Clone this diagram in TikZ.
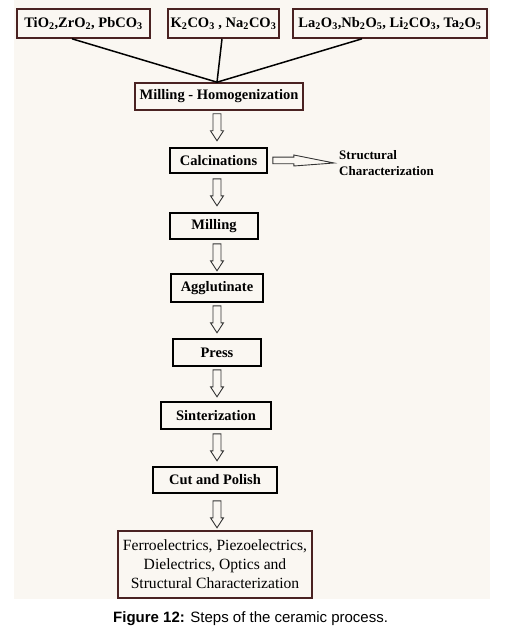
\documentclass[tikz,border=0pt]{standalone}
\usepackage{fontspec}
\setmainfont{Liberation Serif}
\newfontfamily\capfont{Liberation Sans}
\usetikzlibrary{calc}
\definecolor{bgc}{HTML}{FAF7F2}
\definecolor{brownb}{HTML}{4A2222}
\tikzset{
  box/.style={draw=black, line width=1.6pt, fill=bgc, inner sep=0pt, align=center,
    font=\fontsize{14.5}{16}\selectfont\bfseries},
  bbox/.style={box, draw=brownb},
  link/.style={line width=1.5pt, black},
  arrline/.style={draw=black!80, line width=0.9pt, fill=bgc, line join=miter},
  downarr/.pic={\draw[arrline] (-4,0) -- (4,0) -- (4,17) -- (6.5,17) -- (0,27) -- (-6.5,17) -- (-4,17) -- cycle;}
}
\begin{document}
\begin{tikzpicture}[x=1pt,y=-1pt]
\useasboundingbox (0,0) rectangle (507,631);
\fill[white] (0,0) rectangle (507,631);
\fill[bgc] (14,0) rectangle (490,599);
\coordinate (ax) at (217,0);
% top boxes
\node[bbox, minimum width=133, minimum height=29] (b1) at (83.5,23.5) {TiO\textsubscript{2},ZrO\textsubscript{2}, PbCO\textsubscript{3}};
\node[bbox, minimum width=111, minimum height=29] (b2) at (223.5,23.5) {K\textsubscript{2}CO\textsubscript{3} , Na\textsubscript{2}CO\textsubscript{3}};
\node[bbox, minimum width=194, minimum height=29] (b3) at (390,23.5) {La\textsubscript{2}O\textsubscript{3},Nb\textsubscript{2}O\textsubscript{5}, Li\textsubscript{2}CO\textsubscript{3}, Ta\textsubscript{2}O\textsubscript{5}};
\node[bbox, minimum width=168, minimum height=27] (mh) at (219,96.5) {Milling - Homogenization};
\coordinate (j) at ([xshift=-2pt]mh.north);
\draw[link] ([xshift=-11.5pt]b1.south) -- (j);
\draw[link] ([xshift=-1.5pt]b2.south) -- (j);
\draw[link] ([xshift=-28pt]b3.south) -- (j);
% chain
\node[box, minimum width=97, minimum height=25] (calc) at (218.5,160.5) {Calcinations};
\node[box, minimum width=88, minimum height=26] (mill) at (214,226) {Milling};
\node[box, minimum width=92, minimum height=28] (aggl) at (217,288) {Agglutinate};
\node[box, minimum width=88, minimum height=27] (press) at (217,352.5) {Press};
\node[box, minimum width=110, minimum height=27] (sint) at (216,415.5) {Sinterization};
\node[box, minimum width=124, minimum height=26] (cut) at (215,480) {Cut and Polish};
\node[bbox, minimum width=194, minimum height=67, font=\fontsize{15.6}{19}\selectfont] (fin) at (215,564.5)
  {Ferroelectrics, Piezoelectrics,\\Dielectrics, Optics and\\Structural Characterization};
\node[font=\fontsize{13}{16}\selectfont\bfseries, align=left, anchor=west, inner sep=0pt] (sc) at (339,163)
  {Structural\\Characterization};
% hollow arrows
\pic at ($(mh.south -| ax)+(0,3)$) {downarr};
\pic at ($(calc.south -| ax)+(0,5)$) {downarr};
\pic at ($(mill.south -| ax)+(0,4)$) {downarr};
\pic at ($(aggl.south -| ax)+(0,3)$) {downarr};
\pic at ($(press.south -| ax)+(0,3)$) {downarr};
\pic at ($(sint.south -| ax)+(0,4)$) {downarr};
\pic at ($(cut.south -| ax)+(0,7)$) {downarr};
\draw[arrline] ($(calc.east)+(5,-3.3)$) -- ++(21,0) -- ++(0,-2.2) -- ($(sc.west)+(-5,0)$)
  -- ($(calc.east)+(26,5.5)$) -- ++(0,-2.2) -- ++(-21,0) -- cycle;
% caption
\node[font=\capfont\fontsize{15}{18}\selectfont, anchor=west, inner sep=0pt] (cap) at (113,619)
  {\textbf{Figure 12:} Steps of the ceramic process.};
\end{tikzpicture}
\end{document}
